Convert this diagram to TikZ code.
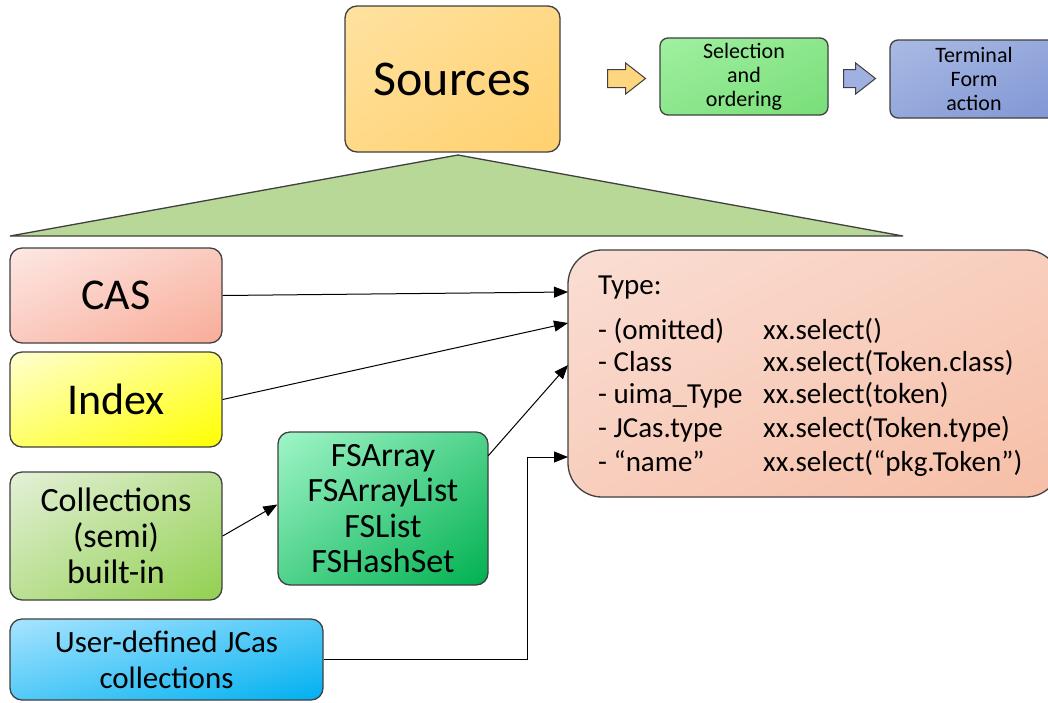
\documentclass[tikz,border=0pt]{standalone}
\usepackage{fontspec}
\setmainfont{Carlito}
\usetikzlibrary{arrows.meta,shapes.arrows,shadings}
\definecolor{bord}{HTML}{404040}
\definecolor{srcA}{RGB}{255,226,160}
\definecolor{srcB}{RGB}{255,208,110}
\definecolor{selA}{RGB}{160,240,160}
\definecolor{selB}{RGB}{120,222,120}
\definecolor{termA}{RGB}{170,186,228}
\definecolor{termB}{RGB}{128,150,212}
\definecolor{casA}{RGB}{253,232,228}
\definecolor{casB}{RGB}{248,172,152}
\definecolor{idxA}{RGB}{255,255,208}
\definecolor{idxB}{RGB}{255,255,0}
\definecolor{colA}{RGB}{228,240,216}
\definecolor{colB}{RGB}{146,208,80}
\definecolor{usrA}{RGB}{168,228,255}
\definecolor{usrB}{RGB}{0,176,240}
\definecolor{fsA}{RGB}{160,245,200}
\definecolor{fsB}{RGB}{0,176,80}
\definecolor{typA}{RGB}{250,222,212}
\definecolor{typB}{RGB}{246,190,166}
\definecolor{triF}{RGB}{184,216,152}
\definecolor{arrO}{RGB}{255,214,128}
\definecolor{arrB}{RGB}{160,176,224}
\tikzset{
  box/.style={draw=bord, line width=1.3pt, rounded corners=12pt, inner sep=0pt, align=center, text=black},
  grad/.style 2 args={shade, upper left=#1, lower right=#2, upper right=#1!50!#2, lower left=#1!50!#2},
  conn/.style={line width=1pt, -{Triangle[length=14pt,width=11pt]}},
  blockarrow/.style={single arrow, draw=bord, line width=1pt, anchor=tail, inner sep=0pt, inner ysep=8.5pt, single arrow head extend=6.5pt, single arrow head indent=0pt, single arrow tip angle=76},
  typetxt/.style={anchor=base west, inner sep=0pt, font=\fontsize{29}{32}\selectfont}
}
\begin{document}
\begin{tikzpicture}[x=1pt,y=-1pt]
\clip (0,0) rectangle (1048,702);
\fill[white] (0,0) rectangle (1048,702);
% triangle
\coordinate (apex) at (458,155);
\coordinate (bl) at (10,236);
\coordinate (br) at (903,236);
\filldraw[fill=triF, draw=bord, line width=1.3pt] (apex) -- (br) -- (bl) -- cycle;
% top row
\node[box, grad={srcA}{srcB}, minimum width=215pt, minimum height=146pt, font=\fontsize{50}{54}\selectfont] (src) at (452.5,79) {Sources};
\node[blockarrow, fill=arrO, minimum height=38pt] (a1) at (607,78.5) {};
\node[box, rounded corners=8pt, grad={selA}{selB}, minimum width=168pt, minimum height=77pt, font=\fontsize{22}{24}\selectfont] (sel) at (744,76.5) {Selection\\and\\ordering};
\node[blockarrow, fill=arrB, minimum height=32pt] (a2) at (843,78.5) {};
\node[box, rounded corners=8pt, grad={termA}{termB}, minimum width=168pt, minimum height=78pt, font=\fontsize{22}{24}\selectfont] (term) at (974,79) {Terminal\\Form\\action};
% left column
\node[box, grad={casA}{casB}, minimum width=212pt, minimum height=95pt, font=\fontsize{44}{48}\selectfont] (cas) at (116,295.5) {CAS};
\node[box, grad={idxA}{idxB}, minimum width=212pt, minimum height=95pt, font=\fontsize{44}{48}\selectfont] (idx) at (116,399.5) {Index};
\node[box, grad={colA}{colB}, minimum width=212pt, minimum height=128pt, font=\fontsize{34}{36}\selectfont] (coll) at (116,536) {Collections\\(semi)\\built-in};
\node[box, grad={usrA}{usrB}, minimum width=313pt, minimum height=81pt, font=\fontsize{31}{36}\selectfont] (user) at (166.5,659.5) {User-defined JCas\\collections};
\node[box, grad={fsA}{fsB}, minimum width=210pt, minimum height=153pt, font=\fontsize{34}{35.5}\selectfont] (fs) at (383,508.5) {FSArray\\FSArrayList\\FSList\\FSHashSet};
% type box
\node[box, rounded corners=34pt, grad={typA}{typB}, minimum width=492pt, minimum height=247pt] (type) at (814,373.5) {};
\node[typetxt] (t0) at (598,294) {Type:};
\node[typetxt] (t1a) at (598,339) {- (omitted)};
\node[typetxt] (t1b) at (763,339) {xx.select()};
\node[typetxt] (t2a) at (598,371) {- Class};
\node[typetxt] (t2b) at (763,371) {xx.select(Token.class)};
\node[typetxt] (t3a) at (598,403) {- uima\_Type};
\node[typetxt] (t3b) at (763,403) {xx.select(token)};
\node[typetxt] (t4a) at (598,437) {- JCas.type};
\node[typetxt] (t4b) at (763,437) {xx.select(Token.type)};
\node[typetxt] (t5a) at (598,471) {- “name”};
\node[typetxt] (t5b) at (763,471) {xx.select(“pkg.Token”)};
% connectors
\coordinate (e1) at (568,292);
\coordinate (e2) at (568,323);
\coordinate (e3) at (568,365);
\coordinate (e4) at (568,457);
\coordinate (bend) at (527,457);
\coordinate (fsout) at (488,456);
\draw[conn] (cas.east) -- (e1);
\draw[conn] (idx.east) -- (e2);
\draw[conn] (fsout) -- (e3);
\draw[conn] (coll.east) -- ([yshift=4pt]fs.west);
\draw[conn] (user.east) -| (bend) -- (e4);
\end{tikzpicture}
\end{document}
